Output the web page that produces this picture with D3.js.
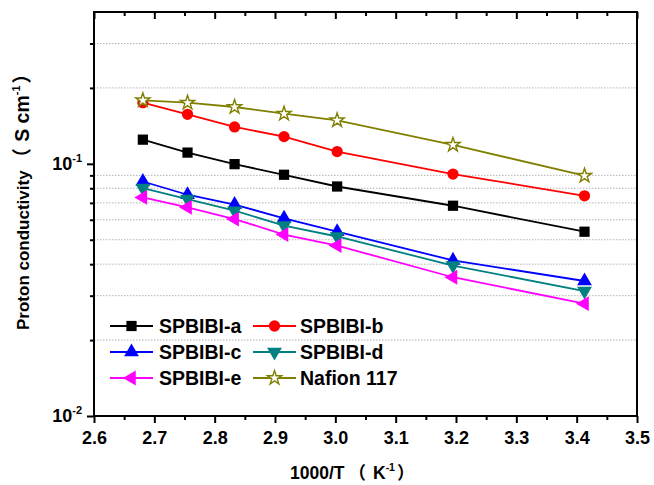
<!DOCTYPE html>
<html>
<head>
<meta charset="utf-8">
<script src="https://cdn.jsdelivr.net/npm/d3@7"></script>
<style>
  body { margin: 0; background: #fff; }
  svg text { font-family: "Liberation Sans", Arial, Helvetica, "Noto Sans CJK SC", sans-serif; font-weight: bold; }
</style>
</head>
<body>
<svg id="chart" width="654" height="485"></svg>
<script>
// 1000/T values (K^-1)
const invT = [2.681, 2.755, 2.833, 2.915, 3.003, 3.195, 3.413];

const spbibiA = [0.1247, 0.1108, 0.0997, 0.0905, 0.0813, 0.0682, 0.0538];
const spbibiB = [0.1747, 0.1572, 0.1400, 0.1282, 0.1118, 0.0911, 0.0747];
const spbibiC = [0.0851, 0.0754, 0.0689, 0.0608, 0.0538, 0.0414, 0.0343];
const spbibiD = [0.0801, 0.0725, 0.0652, 0.0569, 0.0515, 0.0395, 0.0313];
const spbibiE = [0.0736, 0.0672, 0.0604, 0.0524, 0.0474, 0.0355, 0.0279];
const nafion = [0.1786, 0.1747, 0.1680, 0.1580, 0.1488, 0.1189, 0.0897];

const seriesNames = ['SPBIBI-a', 'SPBIBI-b', 'SPBIBI-c', 'SPBIBI-d', 'SPBIBI-e', 'Nafion 117'];

const xTicks = [2.6, 2.7, 2.8, 2.9, 3.0, 3.1, 3.2, 3.3, 3.4, 3.5];
const xMinor = [2.65, 2.75, 2.85, 2.95, 3.05, 3.15, 3.25, 3.35, 3.45];
const yTicks = [0.01, 0.1];
const yTickExp = ['-2', '-1'];
const yMinor = [0.02, 0.03, 0.04, 0.05, 0.06, 0.07, 0.08, 0.09, 0.2, 0.3];

const svg = d3.select('#chart');

const plotL = 94, plotR = 637, plotT = 12, plotB = 416;

let x = d3.scaleLinear().domain([2.6, 3.5]).range([plotL, plotR]);
let y = d3.scaleLog().domain([0.01, 0.4]).range([plotB, plotT]);

// dotted grid at the minor decades
svg.append('g')
  .selectAll('line')
  .data(yMinor)
  .join('line')
  .attr('x1', plotL)
  .attr('x2', plotR)
  .attr('y1', d => y(d))
  .attr('y2', d => y(d))
  .attr('stroke', '#b4b4b4')
  .attr('stroke-width', 1)
  .attr('stroke-dasharray', '1.5,1.5');

function styleAxis(g) {
  g.select('.domain').remove();
  g.selectAll('.tick line').attr('stroke', '#000').attr('stroke-width', 2);
}

// bottom axis
svg.append('g')
  .attr('transform', `translate(0,${plotB})`)
  .call(d3.axisBottom(x).tickValues(xTicks).tickSize(7).tickPadding(8).tickFormat(d3.format('.1f')))
  .call(styleAxis)
  .call(g => g.selectAll('text')
    .attr('font-size', 18)
    .attr('fill', '#000')
    .attr('font-family', null));
svg.append('g')
  .attr('transform', `translate(0,${plotB})`)
  .call(d3.axisBottom(x).tickValues(xMinor).tickSize(4).tickFormat(''))
  .call(styleAxis);

// top axis, ticks inward
svg.append('g')
  .attr('transform', `translate(0,${plotT})`)
  .call(d3.axisTop(x).tickValues(xTicks).tickSize(-7).tickFormat(''))
  .call(styleAxis);
svg.append('g')
  .attr('transform', `translate(0,${plotT})`)
  .call(d3.axisTop(x).tickValues(xMinor).tickSize(-4).tickFormat(''))
  .call(styleAxis);

// left axis
svg.append('g')
  .attr('transform', `translate(${plotL},0)`)
  .call(d3.axisLeft(y).tickValues(yTicks).tickSize(7).tickFormat(''))
  .call(styleAxis);
svg.append('g')
  .attr('transform', `translate(${plotL},0)`)
  .call(d3.axisLeft(y).tickValues(yMinor).tickSize(4).tickFormat(''))
  .call(styleAxis);

yTicks.forEach((v, i) => {
  let t = svg.append('text')
    .attr('x', plotL - 12)
    .attr('y', y(v) + 6)
    .attr('text-anchor', 'end')
    .attr('font-size', 18);
  t.append('tspan').text('10');
  t.append('tspan').attr('font-size', 11).attr('dy', -8).text(yTickExp[i]);
});

// frame
svg.append('rect')
  .attr('x', plotL)
  .attr('y', plotT)
  .attr('width', plotR - plotL)
  .attr('height', plotB - plotT)
  .attr('fill', 'none')
  .attr('stroke', '#000')
  .attr('stroke-width', 2);

const colors = ['#000000', '#ff0000', '#0000ff', '#008080', '#ff00ff', '#808000'];
const shapes = [
  {type: d3.symbolSquare, size: 105, rot: 0},
  {type: d3.symbolCircle, size: 100, rot: 0},
  {type: d3.symbolTriangle, size: 95, rot: 0},
  {type: d3.symbolTriangle, size: 95, rot: 180},
  {type: d3.symbolTriangle, size: 95, rot: -90},
  {type: d3.symbolStar, size: 62, rot: 0},
];
const allSeries = [spbibiA, spbibiB, spbibiC, spbibiD, spbibiE, nafion];

let line = d3.line().x(d => x(d[0])).y(d => y(d[1]));

function drawMarker(g, cx, cy, i) {
  let s = shapes[i];
  let isStar = i === 5;
  g.append('path')
    .attr('d', d3.symbol().type(s.type).size(s.size)())
    .attr('transform', `translate(${cx},${cy}) rotate(${s.rot})`)
    .attr('fill', isStar ? '#fff' : colors[i])
    .attr('stroke', colors[i])
    .attr('stroke-width', isStar ? 1.4 : 0);
}

allSeries.forEach((vals, i) => {
  let pts = vals.map((v, j) => [invT[j], v]);
  let g = svg.append('g');
  g.append('path')
    .attr('d', line(pts))
    .attr('fill', 'none')
    .attr('stroke', colors[i])
    .attr('stroke-width', 1.8);
  pts.forEach(p => drawMarker(g, x(p[0]), y(p[1]), i));
});

// legend
const legCols = [110, 253];
const legRows = [326, 352, 378];
seriesNames.forEach((name, i) => {
  let lx = legCols[i % 2];
  let ly = legRows[Math.floor(i / 2)];
  let g = svg.append('g');
  g.append('line')
    .attr('x1', lx).attr('x2', lx + 43)
    .attr('y1', ly).attr('y2', ly)
    .attr('stroke', colors[i])
    .attr('stroke-width', 1.8);
  drawMarker(g, lx + 21.5, ly, i);
  g.append('text')
    .attr('x', lx + (i % 2 ? 47 : 49))
    .attr('y', ly + 7)
    .attr('font-size', 19.5)
    .text(name);
});

// axis titles
let xt = svg.append('text')
  .attr('x', 290)
  .attr('y', 479)
  .attr('font-size', 17.5);
xt.append('tspan').text('1000/T');
xt.append('tspan').attr('dx', 4).text('（');
xt.append('tspan').attr('dx', 7).text('K');
xt.append('tspan').attr('font-size', 10.5).attr('dy', -8).text('-1');
xt.append('tspan').attr('dy', 8).attr('dx', 2).text('）');

let yt = svg.append('text')
  .attr('transform', 'translate(28.5,330) rotate(-90)')
  .attr('font-size', 17);
yt.append('tspan').text('Proton conductivity');
yt.append('tspan').attr('dx', 3).attr('font-size', 19.5).text('（');
yt.append('tspan').attr('dx', 6).attr('font-size', 19.5).text('S cm');
yt.append('tspan').attr('font-size', 11).attr('dy', -9).text('-1');
yt.append('tspan').attr('dy', 9).attr('dx', 2).attr('font-size', 19.5).text('）');
</script>
</body>
</html>
